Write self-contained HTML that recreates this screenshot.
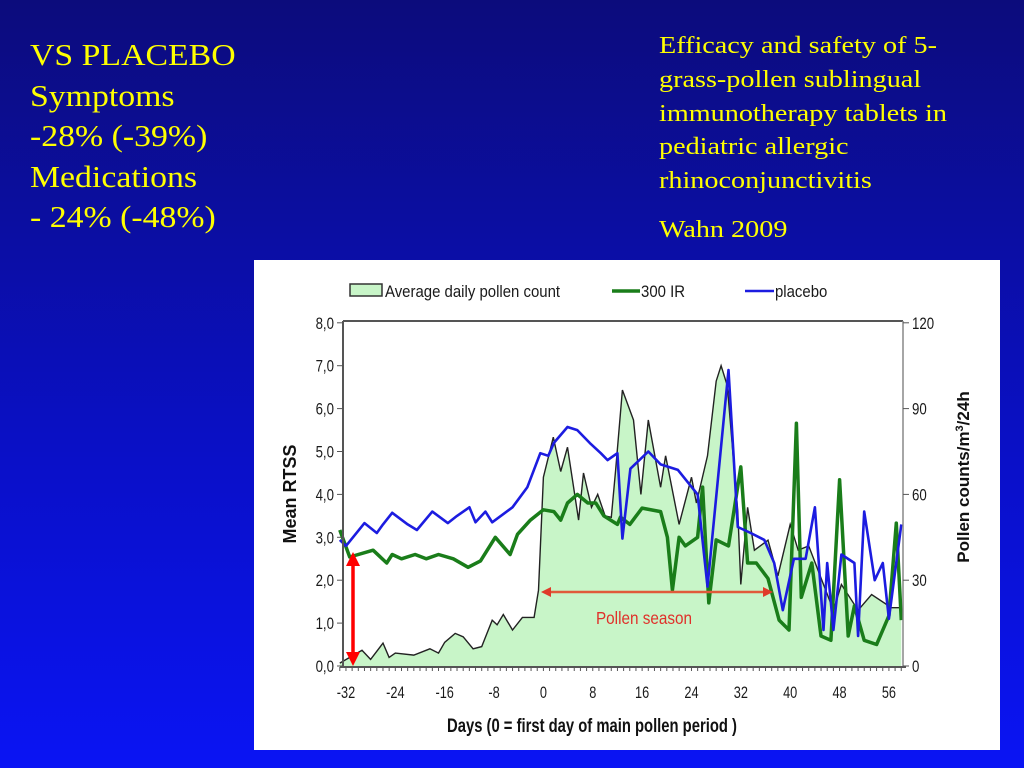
<!DOCTYPE html>
<html><head><meta charset="utf-8"><style>
html,body{margin:0;padding:0;width:1024px;height:768px;overflow:hidden;background:linear-gradient(#0c0c7c,#0a10c8 60%,#0a14f4);}
.t{position:absolute;color:#ffff00;font-family:"Liberation Serif",serif;margin:0;transform-origin:0 0;white-space:nowrap}
</style></head><body>
<div class="t" style="left:30px;top:35px;font-size:31px;line-height:40.5px;transform:scaleX(1.09)">VS PLACEBO<br>Symptoms<br>-28% (-39%)<br>Medications<br>- 24% (-48%)</div>
<div class="t" style="left:659px;top:29px;font-size:24.5px;line-height:33.8px;transform:scaleX(1.15)">Efficacy and safety of 5-<br>grass-pollen sublingual<br>immunotherapy tablets in<br>pediatric allergic<br>rhinoconjunctivitis</div>
<div class="t" style="left:659px;top:216px;font-size:24.5px;transform:scaleX(1.15)">Wahn 2009</div>
<svg id="c" width="1024" height="768" style="position:absolute;left:0;top:0" font-family="Liberation Sans, sans-serif"></svg>
<script>
const tickDays=[-32,-24,-16,-8,0,8,16,24,32,40,48,56];
const leftTicks=[0,1,2,3,4,5,6,7,8];
const rightTicks=[0,30,60,90,120];
const pollenDays=[-33,-29.4,-28,-26,-25,-24,-21,-18.4,-17,-16,-14.3,-13,-11.4,-10,-8.3,-7.5,-6.5,-5,-3.4,-1.5,-0.8,0,1.6,2.8,3.9,5.7,6.5,7.8,8.8,10,11,11.7,12.8,14.6,15.8,17,19,19.8,22,24,24.8,26.6,28,28.8,29.8,31.5,32,33.1,34.2,36.4,38,40,41.3,43,47,48.3,51,53.2,56.4,58];
const pollenCounts=[1,5.5,2.3,8,3,4.5,3.8,6,4.5,8.3,11.4,10.2,6,6.8,16,14.4,18,12.6,17,17,26.5,66,80,68,76.5,51,67.5,55.5,60,52.5,52,68.4,96.5,86,60,86,62.5,73.5,49.5,66,57,73.5,99.6,105,98,54,28.5,55.5,40.5,44,31.5,49.5,40.5,42,19.5,28.5,19.5,25,20.4,20.4];
const irDays=[-33,-31.4,-27.6,-25.4,-24.5,-23,-20.8,-19,-17,-14.6,-12.2,-10.2,-7.8,-5.4,-4.2,-2.1,0,1.7,2.8,3.9,5.5,7.2,8.5,9.8,12,12.5,14,16,19,20.1,20.9,22,23,25,25.8,26.8,28,30,32,33.1,34.5,36.4,38.2,39.8,41,41.8,43.5,45,46.6,48,49.4,50.4,52,54,56,57.2,58];
const irValues=[3.17,2.54,2.7,2.4,2.6,2.5,2.6,2.5,2.6,2.5,2.3,2.45,3.0,2.6,3.07,3.4,3.64,3.6,3.4,3.8,4.0,3.8,3.8,3.5,3.3,3.47,3.3,3.68,3.6,3.0,1.77,3.0,2.8,3.0,4.17,1.47,2.94,2.8,4.64,2.4,2.4,2.04,1.07,0.84,5.66,1.6,2.4,0.7,0.6,4.34,0.7,1.4,0.6,0.5,1.17,3.33,1.07];
const plDays=[-33,-32,-29,-27,-26,-24.5,-22,-20.5,-18,-15.5,-14,-12,-11,-9.4,-8.3,-5,-2.6,-0.5,0.8,1.7,3.9,5.5,7.5,9.3,10.4,12,12.8,14.1,17,19,21.8,25,26.6,30,31.5,33.6,35.8,37.4,38.8,40.6,42.5,44,45.4,46,47,48.3,50.4,51,52,53.7,55,56,58];
const plValues=[2.94,2.8,3.33,3.1,3.3,3.57,3.3,3.17,3.6,3.33,3.5,3.7,3.35,3.6,3.35,3.7,4.17,4.96,4.9,5.2,5.57,5.5,5.2,4.96,4.8,4.96,2.97,4.6,5.0,4.7,4.57,4.0,1.85,6.9,3.24,3.1,2.94,2.4,1.3,2.5,2.5,3.7,0.84,2.4,0.84,2.6,2.4,0.7,3.6,2.0,2.4,1.1,3.3];
const svg=document.getElementById('c');
const NS='http://www.w3.org/2000/svg';
const X=d=>543.4+d*6.17, Y=v=>666-v*42.9, YP=p=>666-p/15*42.9;
function mk(t,a,p){const e=document.createElementNS(NS,t);for(const k in a)e.setAttribute(k,a[k]);(p||svg).appendChild(e);return e;}
const bg=mk('rect',{x:254,y:260,width:746,height:490,fill:'#fff'});


let d='M'+X(pollenDays[0])+','+YP(0);
pollenDays.forEach((dd,i)=>d+=' L'+X(dd).toFixed(1)+','+YP(pollenCounts[i]).toFixed(1));
d+=' L'+X(pollenDays[pollenDays.length-1])+','+YP(0)+'Z';
const area=mk('path',{d:d,fill:'#c8f5c8',stroke:'none'});


const pl=mk('polyline',{points:pollenDays.map((dd,i)=>X(dd).toFixed(1)+','+YP(pollenCounts[i]).toFixed(1)).join(' '),fill:'none',stroke:'#222',"stroke-width":1.4});


const gl=mk('polyline',{points:irDays.map((dd,i)=>X(dd).toFixed(1)+','+Y(irValues[i]).toFixed(1)).join(' '),fill:'none',stroke:'#1a7d1a',"stroke-width":3.5,"stroke-linejoin":"round"});


const bl=mk('polyline',{points:plDays.map((dd,i)=>X(dd).toFixed(1)+','+Y(plValues[i]).toFixed(1)).join(' '),fill:'none',stroke:'#1c1ce0',"stroke-width":2.6,"stroke-linejoin":"round"});


mk('line',{x1:343,y1:321,x2:903,y2:321,stroke:'#555',"stroke-width":2});
const ya=mk('line',{x1:343,y1:321,x2:343,y2:667,stroke:'#555',"stroke-width":2});


const yr=mk('line',{x1:903,y1:321,x2:903,y2:667,stroke:'#888',"stroke-width":1.5});


const xa=mk('line',{x1:340,y1:667,x2:906,y2:667,stroke:'#555',"stroke-width":2});


for(let dd=-33;dd<=58;dd++)mk('line',{x1:X(dd),y1:667,x2:X(dd),y2:671,stroke:'#555',"stroke-width":1});
const TS='font-size:17px;fill:#1a1a1a';
tickDays.forEach(t=>{const e=mk('text',{x:X(t),y:698,"text-anchor":"middle",style:TS,transform:`translate(${X(t)},0) scale(0.75,1) translate(${-X(t)},0)`});e.textContent=t;

});
leftTicks.forEach(t=>{mk('line',{x1:337,y1:Y(t),x2:343,y2:Y(t),stroke:'#555'});const e=mk('text',{x:334,y:Y(t)+6,"text-anchor":"end",style:TS,transform:`translate(334,0) scale(0.78,1) translate(-334,0)`});e.textContent=t.toFixed(1).replace('.',',');

});
rightTicks.forEach(t=>{mk('line',{x1:903,y1:YP(t),x2:909,y2:YP(t),stroke:'#555'});const e=mk('text',{x:912,y:YP(t)+6,style:TS,transform:`translate(912,0) scale(0.78,1) translate(-912,0)`});e.textContent=t;

});
const xt=mk('text',{x:592,y:732,"text-anchor":"middle","font-size":19,"font-weight":"bold",fill:'#111',transform:'translate(592,0) scale(0.78,1) translate(-592,0)'});xt.textContent='Days (0 = first day of main pollen period )';


const yt=mk('text',{x:0,y:0,"text-anchor":"middle","font-size":18,"font-weight":"bold",fill:'#111',transform:'translate(296,494) rotate(-90)'});yt.textContent='Mean RTSS';


const yt2=mk('text',{x:0,y:0,"text-anchor":"middle","font-size":17,"font-weight":"bold",fill:'#111',transform:'translate(969,477) rotate(-90)'});yt2.innerHTML='Pollen counts/m<tspan font-size="11" dy="-6">3</tspan><tspan dy="6">/24h</tspan>';


const lg=mk('g',{});


mk('rect',{x:350,y:284,width:32,height:12,fill:'#c8f5c8',stroke:'#333',"stroke-width":1.5},lg);
const LS='font-size:17px;fill:#1a1a1a';
let t1=mk('text',{x:385,y:297,style:LS,transform:'translate(385,0) scale(0.88,1) translate(-385,0)'},lg);t1.textContent='Average daily pollen count';
mk('line',{x1:612,y1:291,x2:640,y2:291,stroke:'#1a7d1a',"stroke-width":3.5},lg);
let t2=mk('text',{x:641,y:297,style:LS,transform:'translate(641,0) scale(0.88,1) translate(-641,0)'},lg);t2.textContent='300 IR';
mk('line',{x1:745,y1:291,x2:774,y2:291,stroke:'#1c1ce0',"stroke-width":2.5},lg);
let t3=mk('text',{x:775,y:297,style:LS,transform:'translate(775,0) scale(0.88,1) translate(-775,0)'},lg);t3.textContent='placebo';
const ar=mk('g',{});


mk('line',{x1:548,y1:592,x2:766,y2:592,stroke:'#e05a3a',"stroke-width":2.5},ar);
mk('polygon',{points:'541,592 551,587 551,597',fill:'#e03a2a'},ar);
mk('polygon',{points:'773,592 763,587 763,597',fill:'#e03a2a'},ar);
const ps=mk('text',{x:596,y:624,"font-size":18,fill:'#e0302a',transform:'translate(596,0) scale(0.85,1) translate(-596,0)'});ps.textContent='Pollen season';


const ra=mk('g',{});


mk('line',{x1:353,y1:562,x2:353,y2:658,stroke:'#f00',"stroke-width":3.5},ra);
mk('polygon',{points:'353,552 346,566 360,566',fill:'#f00'},ra);
mk('polygon',{points:'353,666 346,652 360,652',fill:'#f00'},ra);
</script>
</body></html>
